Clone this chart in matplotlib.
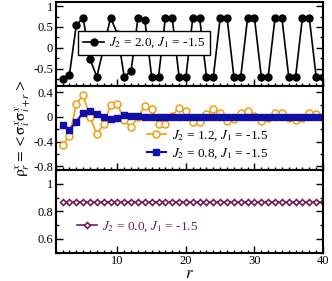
import matplotlib
matplotlib.use("Agg")
import matplotlib.pyplot as plt
from matplotlib.ticker import MultipleLocator

plt.rcParams['font.family'] = ['Liberation Serif', 'DejaVu Serif']
plt.rcParams['mathtext.fontset'] = 'stix'
plt.rcParams['axes.unicode_minus'] = False

r = list(range(2, 41))

# J2 = 2.0, J1 = -1.5
top_vals = [-0.74, -0.65, 0.54, 0.72, -0.27, -0.70, 0.00, 0.72, 0.34, -0.70,
            -0.56, 0.72, 0.67, -0.70, -0.70, 0.72, 0.72, -0.70, -0.70, 0.72,
            0.72, -0.70, -0.70, 0.72, 0.72, -0.70, -0.70, 0.72, 0.72, -0.70,
            -0.70, 0.72, 0.72, -0.70, -0.70, 0.72, 0.72, -0.70, -0.70]
# J2 = 1.2, J1 = -1.5
mid_orange = [-0.46, -0.31, 0.21, 0.35, 0.00, -0.28, -0.12, 0.19, 0.21, -0.05,
              -0.17, 0.00, 0.17, 0.13, -0.12, -0.11, 0.02, 0.15, 0.09, -0.09,
              -0.09, 0.04, 0.13, 0.06, -0.06, -0.03, 0.07, 0.09, 0.02, -0.06,
              -0.01, 0.07, 0.06, -0.02, -0.05, -0.01, 0.06, 0.04, 0.00]
# J2 = 0.8, J1 = -1.5
mid_blue = [-0.13, -0.21, -0.08, 0.07, 0.10, 0.04, 0.00, -0.03, -0.02, 0.03,
            0.01, 0.01, 0.00, 0.00, 0.00, 0.00, 0.00, 0.00, 0.00, 0.00,
            0.00, 0.00, 0.00, 0.00, 0.00, 0.00, 0.00, 0.00, 0.00, 0.00,
            0.00, 0.00, 0.00, 0.00, 0.00, 0.00, 0.00, 0.00, 0.00]
# J2 = 0.0, J1 = -1.5
bot_vals = [0.866, 0.866, 0.866, 0.866, 0.866, 0.866, 0.866, 0.866, 0.866, 0.866,
            0.866, 0.866, 0.866, 0.866, 0.866, 0.866, 0.866, 0.866, 0.866, 0.866,
            0.866, 0.866, 0.866, 0.866, 0.866, 0.866, 0.866, 0.866, 0.866, 0.866,
            0.866, 0.866, 0.866, 0.866, 0.866, 0.866, 0.866, 0.866, 0.866]

lab_top = r'$J_2$ = 2.0, $J_1$ = -1.5'
lab_or = r'$J_2$ = 1.2, $J_1$ = -1.5'
lab_bl = r'$J_2$ = 0.8, $J_1$ = -1.5'
lab_bot = r'$J_2$ = 0.0, $J_1$ = -1.5'

ORANGE = '#F0A010'
BLUE = '#1010A8'
MAROON = '#761A5A'

fig = plt.figure(figsize=(3.32, 2.81), dpi=100)
L, R = 55.7 / 332, 323 / 332
W = R - L
def fy(p):
    return 1 - p / 281
ax1 = fig.add_axes([L, fy(86), W, fy(2) - fy(86)])
ax2 = fig.add_axes([L, fy(170), W, fy(86) - fy(170)])
ax3 = fig.add_axes([L, fy(252.5), W, fy(170) - fy(252.5)])

ax1.plot(r, top_vals, '-o', color='black', lw=1.2, ms=5, label=lab_top)
ax2.plot(r, mid_orange, '-o', color=ORANGE, lw=1.2, ms=5, mfc='white',
         mew=1.1, label=lab_or)
ax2.plot(r, mid_blue, '-s', color=BLUE, lw=1.5, ms=4, label=lab_bl)
ax3.plot(r, bot_vals, '-D', color=MAROON, lw=1.2, ms=3.0, mfc='white',
         mew=1.2, label=lab_bot)

ax1.set_ylim(-0.92, 1.1)
ax1.set_yticks([-0.5, 0, 0.5, 1])
ax1.set_yticklabels(['-0.5', '0', '0.5', '1'])
ax1.yaxis.set_minor_locator(MultipleLocator(0.25))

ax2.set_ylim(-0.86, 0.5)
ax2.set_yticks([-0.8, -0.4, 0, 0.4])
ax2.set_yticklabels(['-0.8', '-0.4', '0', '0.4'])
ax2.yaxis.set_minor_locator(MultipleLocator(0.2))

ax3.set_ylim(0.5, 1.1)
ax3.set_yticks([0.6, 0.8, 1.0])
ax3.set_yticklabels(['0.6', '0.8', '1'])
ax3.yaxis.set_minor_locator(MultipleLocator(0.1))

for ax in (ax1, ax2, ax3):
    ax.set_xlim(1, 40)
    ax.set_xticks([10, 20, 30, 40])
    ax.xaxis.set_minor_locator(MultipleLocator(1))
    ax.tick_params(which='both', direction='in', right=True, top=False,
                   labelsize=9, width=1, pad=2)
    ax.tick_params(which='major', length=5)
    ax.tick_params(which='minor', length=2.5)
    for s in ax.spines.values():
        s.set_linewidth(1.5)
ax1.tick_params(labelbottom=False)
ax2.tick_params(labelbottom=False)

ax2.set_ylabel(r'$\mathrm{\rho}^x_r = <\mathrm{\sigma}^x_i\mathrm{\sigma}^x_{i+r}>$',
               fontsize=11, labelpad=0)
ax3.set_xlabel(r'$r$', fontsize=12, labelpad=-1)

leg1 = ax1.legend(loc='center left', bbox_to_anchor=(0.085, 0.51), fontsize=9.5,
                  frameon=True, fancybox=False, edgecolor='black',
                  framealpha=1, handlelength=1.6, handletextpad=0.4,
                  borderpad=0.35, borderaxespad=0)
leg1.get_frame().set_linewidth(1.0)

leg2 = ax2.legend(loc='upper left', bbox_to_anchor=(0.34, 0.5), fontsize=9.5,
                  frameon=False, handlelength=1.5, handletextpad=0.4,
                  labelspacing=0.3, borderaxespad=0, borderpad=0)

leg3 = ax3.legend(loc='center left', bbox_to_anchor=(0.079, 0.31), fontsize=9.5,
                  frameon=False, handlelength=1.5, handletextpad=0.4,
                  borderaxespad=0, borderpad=0)
for t in leg3.get_texts():
    t.set_color(MAROON)

fig.savefig('out.png', dpi=100)
